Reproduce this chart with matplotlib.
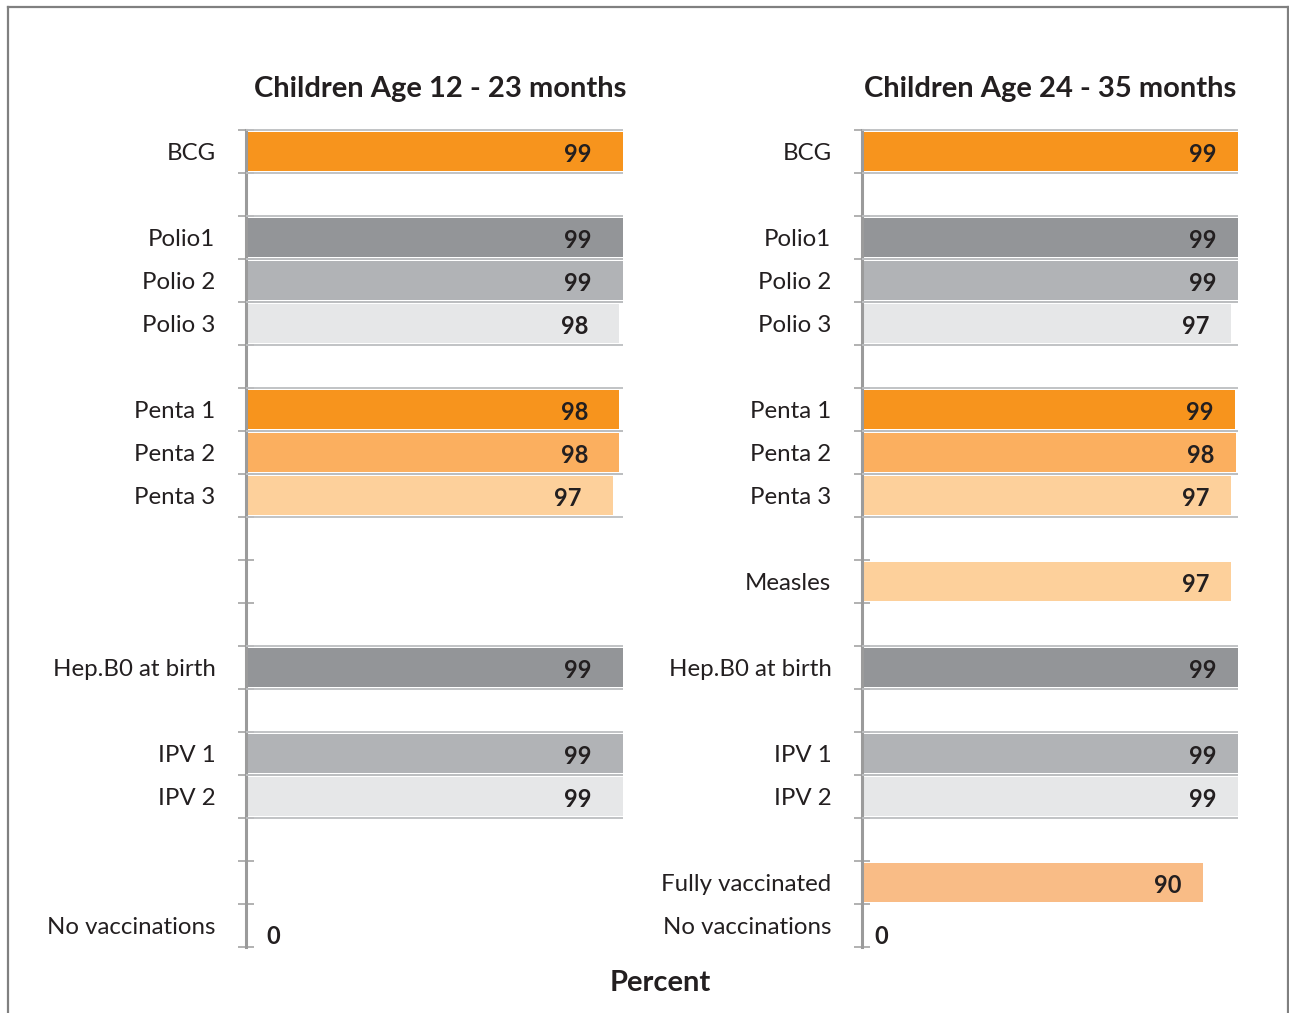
import numpy as np
import matplotlib
matplotlib.use("Agg")
import matplotlib.pyplot as plt
from matplotlib.lines import Line2D

plt.rcParams['font.family'] = ['Lato', 'DejaVu Sans']

# ---- data ----
categories = ["BCG", "", "Polio1", "Polio 2", "Polio 3", "", "Penta 1", "Penta 2", "Penta 3",
              "", "Measles", "", "Hep.B0 at birth", "", "IPV 1", "IPV 2", "",
              "Fully vaccinated", "No vaccinations"]
left_labels = ["BCG", "", "Polio1", "Polio 2", "Polio 3", "", "Penta 1", "Penta 2", "Penta 3",
               "", "", "", "Hep.B0 at birth", "", "IPV 1", "IPV 2", "", "", "No vaccinations"]
left_values = [99, None, 99, 99, 98, None, 98, 98, 97, None, None, None, 99, None, 99, 99, None, None, 0]
right_values = [99, None, 99, 99, 97, None, 99, 98, 97, None, 97, None, 99, None, 99, 99, None, 90, 0]
# plotted bar lengths (values above are labels; bar extents)
left_lengths = [99.3, None, 99.3, 99.3, 98.3, None, 98.3, 98.3, 96.6, None, None, None, 99.3, None, 99.3, 99.3, None, None, 0]
right_lengths = [99.3, None, 99.3, 99.3, 97.4, None, 98.4, 98.7, 97.4, None, 97.4, None, 99.3, None, 99.3, 99.3, None, 90.0, 0]
titles = ["Children Age 12 - 23 months", "Children Age 24 - 35 months"]
xlabel = "Percent"

colors = ["#F7941D", None, "#939598", "#B1B3B6", "#E6E7E8", None, "#F7941D", "#FBAF5F", "#FDD09B",
          None, "#FDD09B", None, "#939598", None, "#B1B3B6", "#E6E7E8", None, "#F9BC86", None]
bordered = [True, False, True, True, True, False, True, True, True,
            False, False, False, True, False, True, True, False, False, False]

W, H = 1289, 1013
fig = plt.figure(figsize=(W / 100, H / 100), dpi=100)

XMAX = 99.3
n = len(categories)
ax_top, ax_bot = 130, 947
panels = [
    (246, 623, left_labels, left_values, left_lengths, titles[0], 440, 8.2, 7.3),
    (862, 1238, categories, right_values, right_lengths, titles[1], 1050, 5.7, 5.0),
]
txt = "#231F20"
for (x0, x1, labels, vals, lens, title, tx, off, zoff) in panels:
    ax = fig.add_axes([x0 / W, 1 - ax_bot / H, (x1 - x0) / W, (ax_bot - ax_top) / H])
    ax.set_xlim(0, XMAX)
    ax.set_ylim(n - 0.5, -0.5)
    for i in range(n):
        if lens[i] is not None and lens[i] > 0:
            ax.barh(i, lens[i], height=0.93, color=colors[i], zorder=2)
        if bordered[i] and vals[i] is not None:
            for yb in (i - 0.5, i + 0.5):
                ax.plot([0, XMAX], [yb, yb], color="#BCBEC0", lw=1.3, zorder=3,
                        clip_on=False, solid_capstyle='butt')
        if vals[i] is not None:
            if vals[i] == 0:
                ax.text(zoff, i + 0.25, "0", ha="center", va="center", fontsize=17,
                        fontweight="bold", color=txt)
            else:
                ax.text(lens[i] - off, i + 0.06, str(vals[i]), ha="right", va="center",
                        fontsize=17, fontweight="bold", color=txt, zorder=4)
    for s in ["top", "right", "bottom"]:
        ax.spines[s].set_visible(False)
    ax.spines["left"].set_color("#9B9B9B")
    ax.spines["left"].set_linewidth(2.2)
    ax.set_xticks([])
    ax.set_yticks(range(n))
    ax.set_yticklabels(labels, fontsize=17.3, color=txt)
    ax.tick_params(axis="y", which="major", length=0, pad=22)
    ax.set_yticks(np.arange(-0.5, n, 1.0), minor=True)
    ax.tick_params(axis="y", which="minor", direction="inout", length=12, width=1.3,
                   color="#ABABAB")
    fig.text(tx / W, 1 - 89 / H, title, ha="center", va="center", fontsize=21,
             fontweight="bold", color=txt)

fig.text(660 / W, 1 - 983 / H, xlabel, ha="center", va="center", fontsize=21,
         fontweight="bold", color=txt)

# outer frame
fc = "#808080"
fig.add_artist(Line2D([8 / W, 8 / W], [0, 1 - 7 / H], color=fc, lw=1.6))
fig.add_artist(Line2D([8 / W, 1288 / W], [1 - 7 / H, 1 - 7 / H], color=fc, lw=1.6))
fig.add_artist(Line2D([1288 / W, 1288 / W], [0, 1 - 7 / H], color=fc, lw=1.6))

fig.savefig("out.png", dpi=100, facecolor="white")
